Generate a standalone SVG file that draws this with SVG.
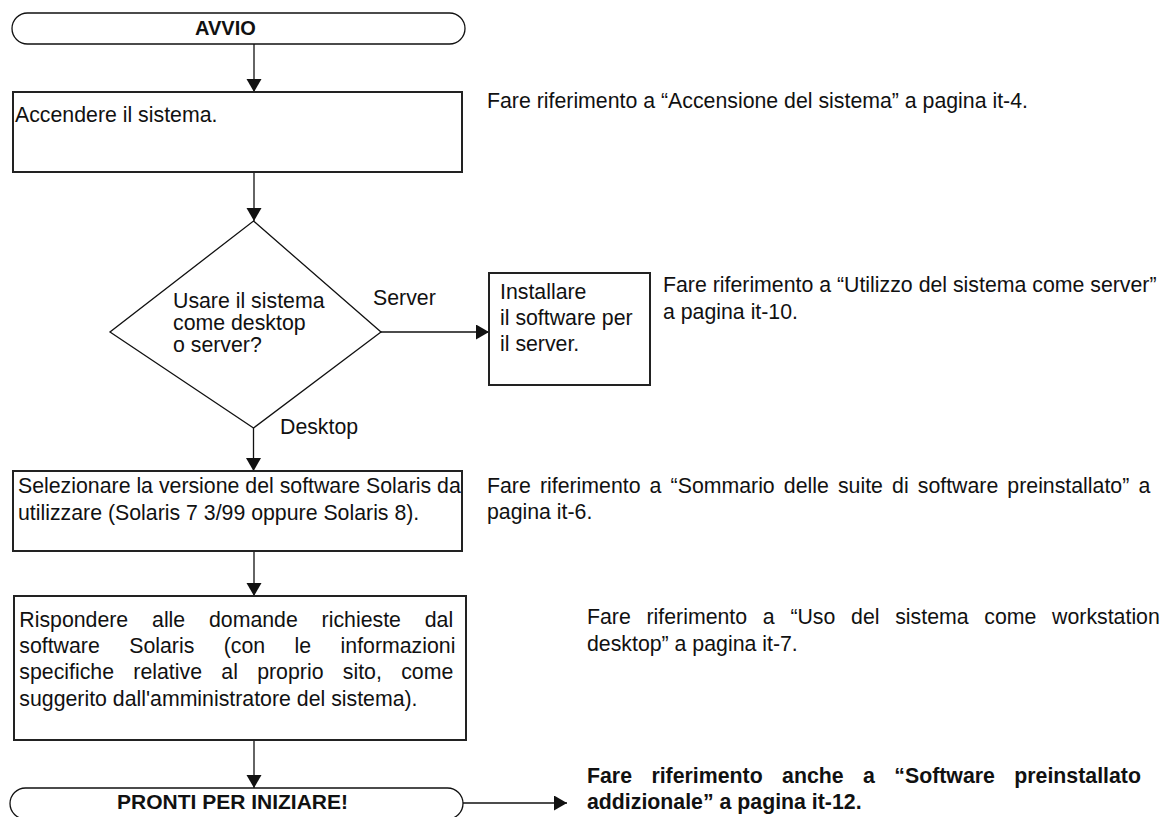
<svg xmlns="http://www.w3.org/2000/svg" width="1165" height="817" viewBox="0 0 1165 817">
<style>
  .t { font-family: "Liberation Sans", Arial, sans-serif; font-size: 21.3px; fill: #111; }
  .b { font-family: "Liberation Sans", Arial, sans-serif; font-weight: bold; fill: #111; }
  .box { fill: #fff; stroke: #222; stroke-width: 2; }
  .thin { fill: #fff; stroke: #111; stroke-width: 1.3; }
  .conn { fill: none; stroke: #111; stroke-width: 1.3; }
</style>
<defs>
  <marker id="ah" markerUnits="userSpaceOnUse" markerWidth="14" markerHeight="16" refX="13" refY="7.5" orient="auto">
    <path d="M0,0 L13,7.5 L0,15 Z" fill="#111"/>
  </marker>
</defs>
<rect width="1165" height="817" fill="#fff"/>

<g id="connectors">
  <line class="conn" x1="254" y1="44" x2="254" y2="92" marker-end="url(#ah)"/>
  <line class="conn" x1="254" y1="172" x2="254" y2="221" marker-end="url(#ah)"/>
  <line class="conn" x1="381" y1="332" x2="489" y2="332" marker-end="url(#ah)"/>
  <line class="conn" x1="253.5" y1="428" x2="253.5" y2="471" marker-end="url(#ah)"/>
  <line class="conn" x1="254" y1="551" x2="254" y2="596" marker-end="url(#ah)"/>
  <line class="conn" x1="254" y1="740" x2="254" y2="788" marker-end="url(#ah)"/>
  <line class="conn" x1="463" y1="803" x2="567" y2="803" marker-end="url(#ah)"/>
  <text class="t" x="373" y="305">Server</text>
  <text class="t" x="280" y="434">Desktop</text>
</g>

<g id="start">
  <rect class="thin" x="12" y="13" width="453" height="31" rx="15.5"/>
  <text class="b" x="195" y="35" font-size="20">AVVIO</text>
</g>

<g id="step-power">
  <rect class="box" x="13" y="92" width="449" height="80"/>
  <text class="t" x="15" y="122">Accendere il sistema.</text>
</g>
<g id="ref-power">
  <text class="t" x="487" y="108">Fare riferimento a “Accensione del sistema” a pagina it-4.</text>
</g>

<g id="decision">
  <polygon class="thin" points="253.5,221 381,332 253.5,428 110,332"/>
  <text class="t" x="173" y="308">Usare il sistema</text>
  <text class="t" x="173" y="330">come desktop</text>
  <text class="t" x="173" y="352">o server?</text>
</g>

<g id="step-server">
  <rect class="box" x="489" y="273" width="161" height="112"/>
  <text class="t" x="500" y="299">Installare</text>
  <text class="t" x="500" y="325">il software per</text>
  <text class="t" x="500" y="351">il server.</text>
</g>
<g id="ref-server">
  <text class="t" x="663" y="292">Fare riferimento a “Utilizzo del sistema come server”</text>
  <text class="t" x="663" y="318.5">a pagina it-10.</text>
</g>

<g id="step-select">
  <rect class="box" x="13" y="471" width="449" height="80"/>
  <text class="t" x="18" y="493">Selezionare la versione del software Solaris da</text>
  <text class="t" x="18" y="520">utilizzare (Solaris 7 3/99 oppure Solaris 8).</text>
</g>
<g id="ref-select">
  <text class="t" x="487" y="493" word-spacing="3.2">Fare riferimento a “Sommario delle suite di software preinstallato” a</text>
  <text class="t" x="487" y="519">pagina it-6.</text>
</g>

<g id="step-answer">
  <rect class="box" x="14" y="596" width="452" height="144"/>
  <text class="t" x="19.3" y="627" word-spacing="17.9">Rispondere alle domande richieste dal</text>
  <text class="t" x="19.3" y="653" word-spacing="23.5">software Solaris (con le informazioni</text>
  <text class="t" x="19.3" y="679" word-spacing="13.4">specifiche relative al proprio sito, come</text>
  <text class="t" x="19.3" y="706">suggerito dall'amministratore del sistema).</text>
</g>
<g id="ref-answer">
  <text class="t" x="587" y="624" word-spacing="9.8">Fare riferimento a “Uso del sistema come workstation</text>
  <text class="t" x="587" y="651">desktop” a pagina it-7.</text>
</g>

<g id="end">
  <rect class="thin" x="10" y="788" width="453" height="31" rx="15.5"/>
  <text class="b" x="117" y="809" font-size="21">PRONTI PER INIZIARE!</text>
</g>
<g id="ref-end">
  <text class="b" x="587" y="783" font-size="21.3" word-spacing="13.5">Fare riferimento anche a “Software preinstallato</text>
  <text class="b" x="587" y="809" font-size="21.3">addizionale” a pagina it-12.</text>
</g>
</svg>
